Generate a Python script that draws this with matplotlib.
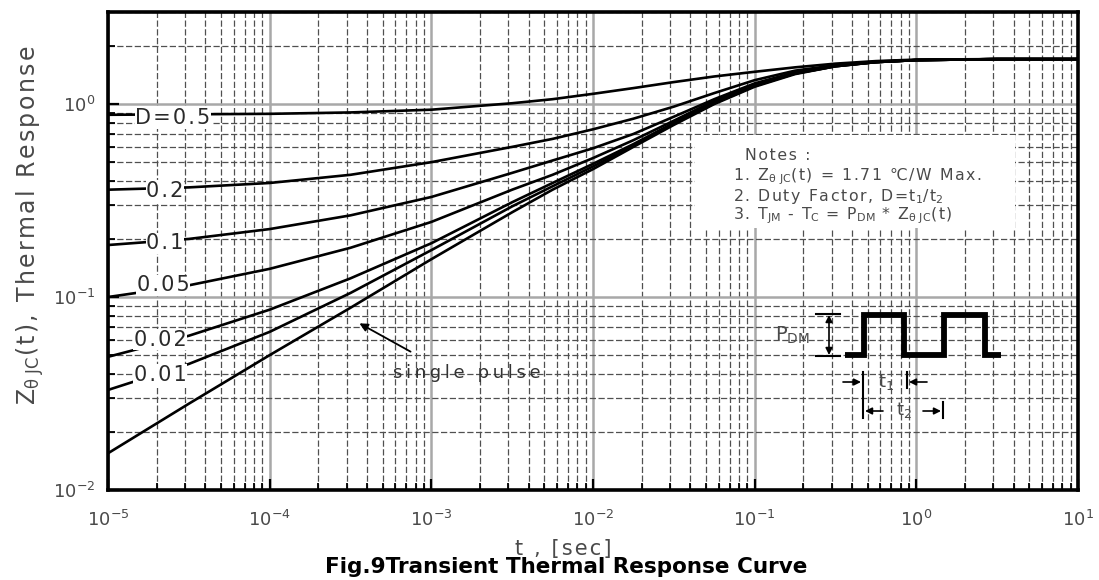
import matplotlib
matplotlib.use("Agg")
import matplotlib.pyplot as plt
from matplotlib.patches import Rectangle
from matplotlib.ticker import NullFormatter
import numpy as np

W, H = 1099, 580
plt.rcParams["font.family"] = ["DejaVu Sans"]
plt.rcParams["mathtext.default"] = "regular"

# data (log10 of time in seconds)
log_t = [-5, -4.5, -4, -3.5, -3, -2.5, -2.25, -2, -1.75, -1.5, -1.25, -1,
         -0.75, -0.5, -0.25, 0, 0.5, 1]
z_d05 = [0.88, 0.885, 0.89, 0.905, 0.935, 1.01, 1.06, 1.13, 1.21, 1.30, 1.39, 1.47,
         1.55, 1.62, 1.67, 1.70, 1.71, 1.71]
z_d02 = [0.36, 0.37, 0.39, 0.43, 0.50, 0.60, 0.66, 0.74, 0.84, 0.97, 1.14, 1.33,
         1.49, 1.59, 1.66, 1.69, 1.71, 1.71]
z_d01 = [0.186, 0.20, 0.225, 0.265, 0.33, 0.44, 0.51, 0.59, 0.70, 0.86, 1.06, 1.28,
         1.46, 1.58, 1.65, 1.69, 1.71, 1.71]
z_d005 = [0.10, 0.115, 0.14, 0.18, 0.245, 0.36, 0.43, 0.525, 0.65, 0.82, 1.04, 1.26,
          1.45, 1.58, 1.65, 1.69, 1.71, 1.71]
z_d002 = [0.049, 0.063, 0.086, 0.125, 0.19, 0.31, 0.39, 0.49, 0.62, 0.80, 1.02, 1.25,
          1.44, 1.57, 1.65, 1.69, 1.71, 1.71]
z_d001 = [0.033, 0.045, 0.066, 0.105, 0.175, 0.295, 0.375, 0.475, 0.61, 0.79, 1.01, 1.24,
          1.44, 1.57, 1.65, 1.69, 1.71, 1.71]
z_single = [0.0155, 0.028, 0.05, 0.088, 0.157, 0.275, 0.36, 0.46, 0.60, 0.78, 1.0, 1.23,
            1.43, 1.57, 1.65, 1.69, 1.71, 1.71]

curves = [z_d05, z_d02, z_d01, z_d005, z_d002, z_d001, z_single]
curve_labels = ["D=0.5", "0.2", "0.1", "0.05", "0.02", "0.01"]
# label anchor points (t, Z) where each label sits on its curve
label_t = [2.52e-5, 2.25e-5, 2.25e-5, 2.19e-5, 2.1e-5, 2.1e-5]
label_z = [0.846, 0.354, 0.19, 0.115, 0.060, 0.0394]

GRAY_TXT = "#4a4a4a"
HAIR = "\u200a"
THIN = "\u2009"


def spaced(s, sp=HAIR):
    # letter-spaced text, leaves $...$ math parts alone
    parts = s.split("$")
    out = []
    for i, p in enumerate(parts):
        out.append(sp.join(p) if i % 2 == 0 else "$" + p + "$")
    return "".join(out)


fig = plt.figure(figsize=(W / 100, H / 100), dpi=100)
fig.patch.set_facecolor("white")
ax = fig.add_axes([108 / W, 1 - 490 / H, 970 / W, 478 / H])

t = 10.0 ** np.array(log_t)
for z in curves:
    ax.plot(t, z, color="black", lw=1.9, zorder=4, solid_capstyle="butt")

ax.set_xscale("log")
ax.set_yscale("log")
ax.set_xlim(1e-5, 10)
ax.set_ylim(0.01, 3)
ax.xaxis.set_minor_formatter(NullFormatter())
ax.yaxis.set_minor_formatter(NullFormatter())

ax.grid(which="major", color="#a8a8a8", lw=1.8, ls="-", zorder=1)
ax.grid(which="minor", color="#505050", lw=0.9, ls=(0, (5, 2)), zorder=1)
ax.set_axisbelow(True)
ax.tick_params(which="both", direction="in", top=False, right=False,
               colors="black", labelcolor=GRAY_TXT)
ax.tick_params(which="major", length=8, width=1.6, labelsize=13)
ax.tick_params(axis="x", which="major", pad=14)
ax.tick_params(axis="y", which="major", pad=9)
ax.tick_params(which="minor", length=5, width=1.3)
for s in ax.spines.values():
    s.set_linewidth(2.6)

for lab, lt, lz in zip(curve_labels, label_t, label_z):
    ax.text(lt, lz, spaced(lab), fontsize=15, color="#2a2a2a", ha="center", va="center",
            zorder=6, bbox=dict(facecolor="white", edgecolor="none", pad=0.5))

# overlay in pixel coordinates for annotations
ov = fig.add_axes([0, 0, 1, 1])
ov.set_xlim(0, W)
ov.set_ylim(H, 0)
ov.axis("off")
ov.patch.set_visible(False)

# single pulse arrow
ov.annotate("", xy=(357, 322), xytext=(413, 353),
            arrowprops=dict(arrowstyle="-|>", color="black", lw=1.3, mutation_scale=12))
ov.text(467, 373, spaced("single pulse", THIN), fontsize=13, color="#333333",
        ha="center", va="center")

# notes box
ov.add_patch(Rectangle((695, 135), 320, 93, facecolor="white", edgecolor="none", zorder=3))
notes = ["Notes :",
         "1. Z$_{\\theta\\ JC}$(t) = 1.71 \u2103/W Max.",
         "2. Duty Factor, D=t$_1$/t$_2$",
         "3. T$_{JM}$ - T$_C$ = P$_{DM}$ * Z$_{\\theta\\ JC}$(t)"]
for i, (line, y) in enumerate(zip(notes, [156, 177, 197, 216])):
    ov.text(745 if i == 0 else 733, y, spaced(line), fontsize=11.3, color=GRAY_TXT,
            ha="left", va="center", zorder=4)

# pulse train sketch
ov.plot([845, 864, 864, 904, 904, 944, 944, 985, 985, 1001],
        [355, 355, 315, 315, 355, 355, 315, 315, 355, 355],
        color="black", lw=4.2, solid_joinstyle="miter", solid_capstyle="butt")
ov.plot([816, 840], [314, 314], color="black", lw=1.5)
ov.plot([816, 840], [356, 356], color="black", lw=1.5)
ov.annotate("", xy=(829, 315), xytext=(829, 355),
            arrowprops=dict(arrowstyle="<|-|>", color="black", lw=1.2, mutation_scale=10,
                            shrinkA=0, shrinkB=0))
ov.text(792, 335, "P$_{DM}$", fontsize=14, color=GRAY_TXT, ha="center", va="center")

ov.plot([863, 863], [372, 418], color="black", lw=1.5)
ov.plot([907, 907], [372, 388], color="black", lw=1.5)
ov.plot([943, 943], [402, 418], color="black", lw=1.5)
for x0, x1, y in [(843, 861, 382), (927, 909, 382), (883, 865, 411), (923, 941, 411)]:
    ov.annotate("", xy=(x1, y), xytext=(x0, y),
                arrowprops=dict(arrowstyle="-|>", color="black", lw=1.2, mutation_scale=10,
                                shrinkA=0, shrinkB=0))
ov.text(886, 382, "t$_1$", fontsize=13, color=GRAY_TXT, ha="center", va="center")
ov.text(904, 410, "t$_2$", fontsize=13, color=GRAY_TXT, ha="center", va="center")

# axis labels and caption
ov.text(30, 225, spaced("Z$_{\\theta\\ JC}$(t), Thermal Response"), fontsize=17,
        color=GRAY_TXT, rotation=90, ha="center", va="center")
ov.text(563, 549, spaced("t , [sec]"), fontsize=15, color=GRAY_TXT, ha="center", va="center")
ov.text(566, 567, "Fig.9Transient Thermal Response Curve", fontsize=15.5, fontweight="bold",
        color="black", ha="center", va="center")

fig.savefig("out.png", dpi=100, facecolor="white")
plt.close(fig)
